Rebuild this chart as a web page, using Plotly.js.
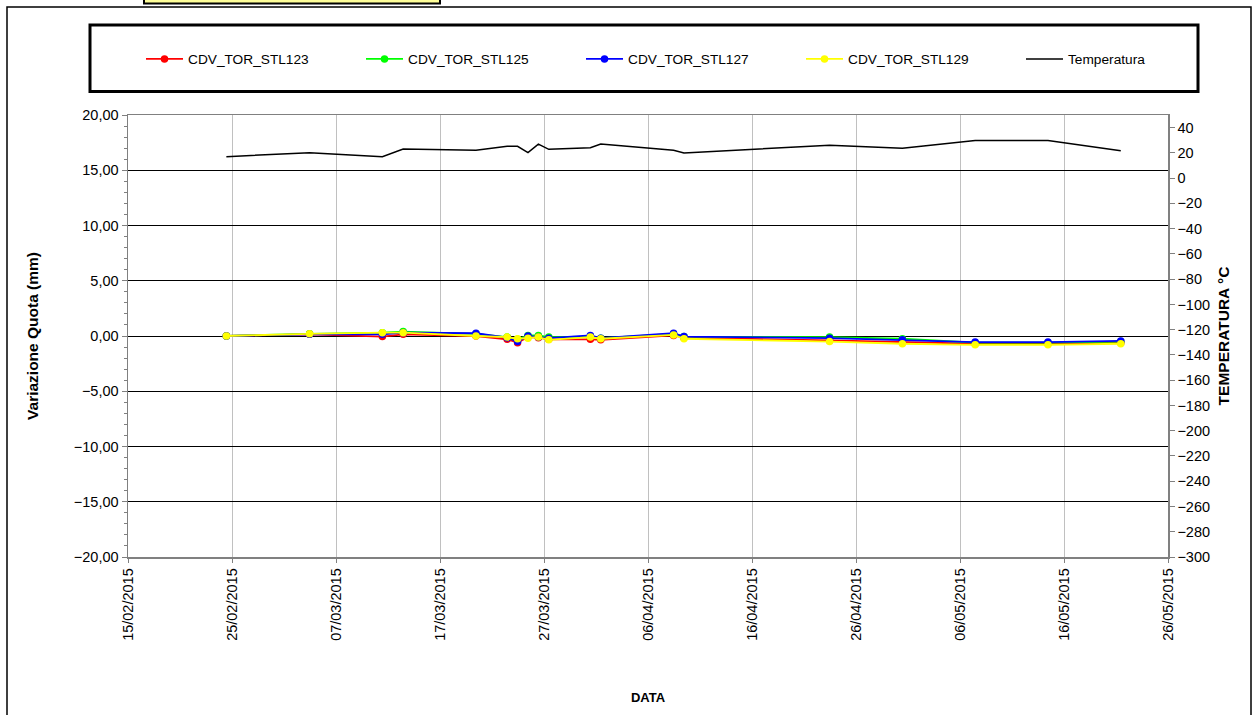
<!DOCTYPE html>
<html>
<head>
<meta charset="utf-8">
<script src="https://cdn.plot.ly/plotly-3.0.1.min.js"></script>
<style>html,body{margin:0;padding:0;background:#fff;}#chart{width:1254px;height:715px;}</style>
</head>
<body>
<div id="chart"></div>
<script>
// ---- DATA ----
const dates = [
  "2015-02-24 11:00","2015-03-04 11:00","2015-03-11 11:00","2015-03-13 11:00","2015-03-20 11:00",
  "2015-03-23 11:00","2015-03-24 11:00","2015-03-25 11:00","2015-03-26 11:00","2015-03-27 11:00",
  "2015-03-31 11:00","2015-04-01 11:00","2015-04-08 11:00","2015-04-09 11:00","2015-04-23 11:00",
  "2015-04-30 11:00","2015-05-07 11:00","2015-05-14 11:00","2015-05-21 11:00"
];
const stl123 = [0, 0.15, -0.05, 0.15, 0.0, -0.3, -0.6, -0.1, -0.15, -0.3, -0.3, -0.35, 0.05, -0.15, -0.4, -0.55, -0.7, -0.7, -0.6];
const stl125 = [0, 0.2, 0.3, 0.4, 0.2, -0.1, -0.3, 0.05, 0.05, -0.1, -0.05, -0.2, 0.2, -0.05, -0.1, -0.25, -0.6, -0.6, -0.5];
const stl127 = [0, 0.15, 0.15, 0.3, 0.25, -0.15, -0.5, 0.0, -0.1, -0.2, 0.05, -0.2, 0.25, -0.05, -0.2, -0.35, -0.55, -0.55, -0.45];
const stl129 = [0, 0.2, 0.3, 0.3, 0.0, -0.1, -0.25, -0.2, -0.1, -0.35, -0.1, -0.25, 0.1, -0.25, -0.5, -0.7, -0.8, -0.8, -0.7];
const temperatura = [17, 20.2, 17, 23.1, 22, 25.2, 25.2, 20.2, 27, 22.8, 24.1, 27, 22, 19.9, 26.1, 23.6, 29.8, 29.8, 21.7];
const seriesNames = ["CDV_TOR_STL123","CDV_TOR_STL125","CDV_TOR_STL127","CDV_TOR_STL129","Temperatura"];
const seriesColors = ["#ff0000","#00ff00","#0000ff","#ffff00","#000000"];

const FONT = "Liberation Sans, Arial, sans-serif";
const seriesVals = [stl123, stl125, stl127, stl129];

const traces = seriesVals.map((v, i) => ({
  type: "scatter", mode: "lines+markers", name: seriesNames[i],
  x: dates, y: v, xaxis: "x", yaxis: "y",
  line: {color: seriesColors[i], width: 1.8},
  marker: {color: seriesColors[i], size: 7.5, line: {width: 0}}
}));
traces.push({
  type: "scatter", mode: "lines", name: seriesNames[4],
  x: dates, y: temperatura, xaxis: "x", yaxis: "y2",
  line: {color: seriesColors[4], width: 1.5}
});

// plot area geometry (px)
const L = 128, R = 1168, T = 115, B = 557, W = 1254, H = 715;
const px = v => (v - L) / (R - L);
const py = v => (B - v) / (B - T);

const layout = {
  width: W, height: H,
  paper_bgcolor: "#ffffff", plot_bgcolor: "#ffffff",
  separators: ",.",
  font: {family: FONT, size: 14, color: "#000"},
  margin: {l: L, r: W - R, t: T, b: H - B, pad: 0},
  showlegend: true,
  legend: {
    orientation: "h", xref: "paper", yref: "paper",
    x: px(1241), xanchor: "right", y: py(59), yanchor: "middle",
    entrywidth: 168, entrywidthmode: "pixels", itemwidth: 37,
    bgcolor: "rgba(0,0,0,0)", borderwidth: 0,
    font: {family: FONT, size: 13.7, color: "#000"}
  },
  xaxis: {
    type: "date",
    range: ["2015-02-15", "2015-05-26"],
    tick0: "2015-02-15", dtick: 864000000,
    tickformat: "%d/%m/%Y", tickangle: -90,
    ticks: "outside", ticklen: 4, tickcolor: "#808080",
    showgrid: true, gridcolor: "#c0c0c0", gridwidth: 1,
    showline: true, linecolor: "#808080", linewidth: 1.5, mirror: true,
    tickfont: {family: FONT, size: 14.5, color: "#000"},
    title: {text: "DATA", standoff: 53, font: {family: FONT, size: 13, color: "#000", weight: "bold"}},
    zeroline: false, automargin: false
  },
  yaxis: {
    range: [-20, 20], dtick: 5, tick0: 0, tickformat: ".2f",
    ticks: "outside", ticklen: 5, tickcolor: "#808080",
    minor: {dtick: 1, ticks: "outside", ticklen: 3, tickcolor: "#808080", showgrid: false},
    showgrid: true, gridcolor: "#000000", gridwidth: 1,
    zeroline: true, zerolinecolor: "#000000", zerolinewidth: 1,
    showline: true, linecolor: "#808080", linewidth: 1.5, mirror: true,
    tickfont: {family: FONT, size: 14.5, color: "#000"},
    title: {text: "Variazione Quota (mm)", standoff: 31, font: {family: FONT, size: 15.5, color: "#000", weight: "bold"}},
    automargin: false
  },
  yaxis2: {
    overlaying: "y", side: "right",
    range: [-300, 50], dtick: 20, tick0: 0,
    ticks: "outside", ticklen: 5, tickcolor: "#808080",
    showgrid: false, zeroline: false,
    showline: true, linecolor: "#808080", linewidth: 1.5,
    tickfont: {family: FONT, size: 14.5, color: "#000"},
    title: {text: "TEMPERATURA °C", standoff: 9, font: {family: FONT, size: 15.5, color: "#000", weight: "bold"}},
    automargin: false
  },
  shapes: [
    {type: "rect", xref: "paper", yref: "paper", layer: "below",
     x0: px(7), x1: px(1251), y0: py(716), y1: py(7),
     line: {color: "#000", width: 1.5}, fillcolor: "rgba(0,0,0,0)"},
    {type: "rect", xref: "paper", yref: "paper",
     x0: px(90), x1: px(1198), y0: py(91.5), y1: py(25),
     line: {color: "#000", width: 3}, fillcolor: "rgba(0,0,0,0)"},
    {type: "rect", xref: "paper", yref: "paper",
     x0: px(144), x1: px(440), y0: py(3.5), y1: py(-20),
     line: {color: "#000", width: 2}, fillcolor: "#ffff99"}
  ]
};

Plotly.newPlot("chart", traces, layout, {staticPlot: true, displayModeBar: false});
</script>
</body>
</html>
